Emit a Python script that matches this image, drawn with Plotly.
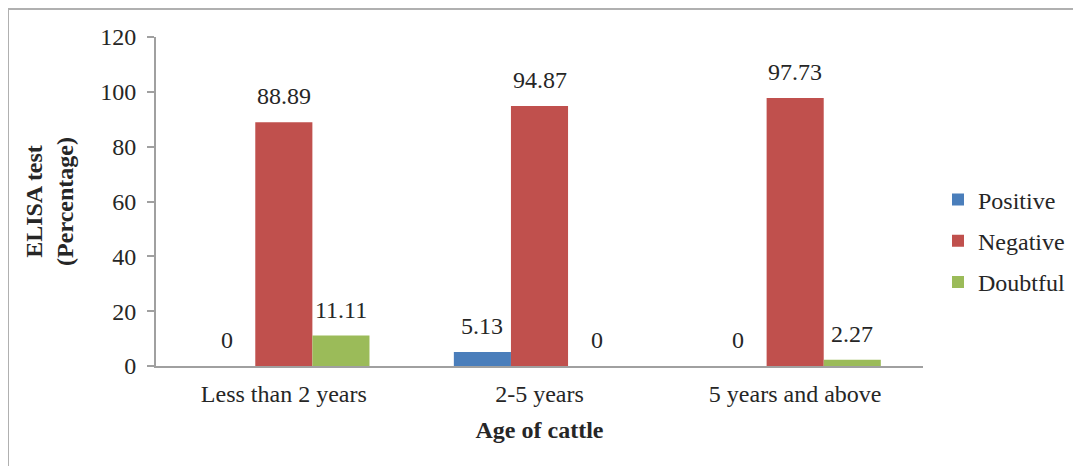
import plotly.graph_objects as go

categories = ["Less than 2 years", "2-5 years", "5 years and above"]
positive = [0, 5.13, 0]
negative = [88.89, 94.87, 97.73]
doubtful = [11.11, 0, 2.27]
series_names = ["Positive", "Negative", "Doubtful"]
colors = ["#4A7EBB", "#C0504D", "#9BBB59"]

FONT = "Liberation Serif"
TXT = "#262626"
FS = 24

# page body has an 8px margin; figure offset accordingly
W, H = 1073, 458
L, R, T, B = 148, 158, 29, 100
pw = W - L - R
ph = H - T - B
BARGAP = 0.33
n_series = 3
bar_px = pw / len(categories) * (1 - BARGAP) / n_series

fig = go.Figure()
all_vals = [positive, negative, doubtful]
for name, vals, col in zip(series_names, all_vals, colors):
    fig.add_trace(go.Bar(
        x=categories, y=vals, name=name, marker_color=col, marker_line_width=0,
        legendgroup=name,
    ))

# data labels above each bar
for si, vals in enumerate(all_vals):
    for cat, v in zip(categories, vals):
        fig.add_annotation(
            x=cat, y=v, text=f"{v:g}", showarrow=False, yanchor="bottom",
            xshift=(si - (n_series - 1) / 2) * bar_px, yshift=11,
            font=dict(family=FONT, size=FS, color=TXT),
        )

fig.update_layout(
    width=W, height=H,
    margin=dict(l=L, r=R, t=T, b=B, pad=0, autoexpand=False),
    paper_bgcolor="white", plot_bgcolor="white",
    barmode="group", bargap=BARGAP, bargroupgap=0,
    font=dict(family=FONT, size=FS, color=TXT),
    showlegend=True,
    legend=dict(x=(930 - L) / pw, xanchor="left", y=(358 - 233) / ph, yanchor="middle",
                traceorder="grouped", tracegroupgap=7, itemwidth=30,
                font=dict(family=FONT, size=FS, color=TXT), bgcolor="rgba(0,0,0,0)"),
)
fig.update_xaxes(
    showline=True, linecolor="#A0A0A0", linewidth=2, ticks="", showgrid=False,
    tickfont=dict(family=FONT, size=FS, color=TXT), ticklabelstandoff=5,
    title=dict(text="<b>Age of cattle</b>", font=dict(family=FONT, size=FS, color=TXT), standoff=15),
)
fig.update_yaxes(
    range=[0, 120], dtick=20, showline=True, linecolor="#A0A0A0", linewidth=2,
    ticks="outside", ticklen=7, tickcolor="#A0A0A0", tickwidth=2, showgrid=False, zeroline=False,
    tickfont=dict(family=FONT, size=FS, color=TXT), ticklabelstandoff=6,
    title=dict(text="<b>ELISA test<br>(Percentage)</b>", font=dict(family=FONT, size=FS, color=TXT), standoff=20),
)
# chart frame (top and left edges visible in the reference)
fig.add_shape(type="line", xref="paper", yref="paper",
              x0=(0 - L) / pw, x1=(W + 5 - L) / pw, y0=(H - B - 1) / ph, y1=(H - B - 1) / ph,
              line=dict(color="#B0B0B0", width=2))
fig.add_shape(type="line", xref="paper", yref="paper",
              x0=(0 - L) / pw, x1=(0 - L) / pw, y0=(H - B - 1) / ph, y1=(H - B - H - 5) / ph,
              line=dict(color="#B0B0B0", width=2))

fig.write_html("out.html")
